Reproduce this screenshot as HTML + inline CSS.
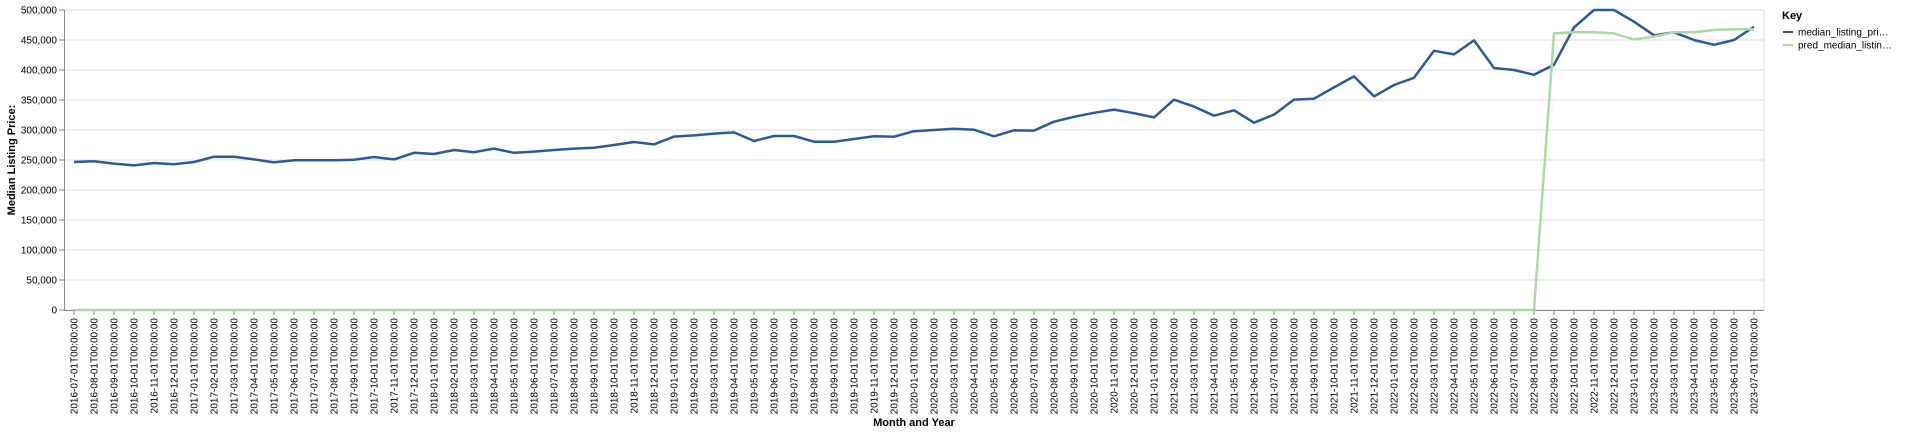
<!DOCTYPE html>
<html><head><meta charset="utf-8"><style>
html,body{margin:0;padding:0;background:#fff;}
svg{display:block;font-family:"Liberation Sans",sans-serif;}
</style></head><body>
<svg id="chart" width="1920" height="434"></svg>
<script>
const months = [];
for (let y = 2016, m = 7; !(y === 2023 && m === 8); m++) { if (m > 12) { m = 1; y++; } if (y===2023&&m===8) break; months.push(y + '-' + String(m).padStart(2,'0') + '-01T00:00:00'); }
const actualValues = [246700,247800,244000,241000,245000,243000,246700,255500,255500,251000,246000,249500,249500,249500,250500,255000,251000,262000,260000,266700,263000,269000,262000,264000,266700,269000,270500,275000,280000,276000,289000,291000,294000,296000,281700,290000,290000,280500,280500,285000,289500,288900,298000,300000,302000,300500,289500,299500,299000,313900,322000,328700,334000,328000,321000,350500,339000,323900,332800,312200,325600,350600,352200,371000,389400,356000,375000,387000,432000,426000,449400,403300,400000,392000,408900,471000,500000,500000,480500,457800,462800,450000,442000,450000,472000];
const predValues = [0,0,0,0,0,0,0,0,0,0,0,0,0,0,0,0,0,0,0,0,0,0,0,0,0,0,0,0,0,0,0,0,0,0,0,0,0,0,0,0,0,0,0,0,0,0,0,0,0,0,0,0,0,0,0,0,0,0,0,0,0,0,0,0,0,0,0,0,0,0,0,0,0,0,461000,462800,463000,461000,451000,455600,462800,463000,466700,467800,468000];
const yTicks = [0,50000,100000,150000,200000,250000,300000,350000,400000,450000,500000];
const seriesNames = ['median_listing_pri…','pred_median_listin…'];

const NS='http://www.w3.org/2000/svg';
const svg=document.getElementById('chart');
const L=64,R=1764,T=10,B=310;
const xs=i=>74+i*(1680/(months.length-1));
const ys=v=>B-(v/500000)*(B-T);
function el(tag,attrs,parent){const e=document.createElementNS(NS,tag);for(const k in attrs)e.setAttribute(k,attrs[k]);(parent||svg).appendChild(e);return e;}

// grid + y ticks
yTicks.forEach(v=>{
  const g=el('line',{x1:L,x2:R,y1:ys(v),y2:ys(v),stroke:'#ddd','stroke-width':1});
  
  
  const t=el('line',{x1:L-5,x2:L,y1:ys(v),y2:ys(v),stroke:'#888'});
  
  
  const tx=el('text',{x:L-7,y:ys(v)+3.5,'text-anchor':'end','font-size':10,fill:'#000'});
  tx.textContent=v.toLocaleString('en-US');
  
  
});
// right border
const rb=el('line',{x1:R,x2:R,y1:T,y2:B,stroke:'#ddd'});


// axes
const ya=el('line',{x1:L+0.5,x2:L+0.5,y1:T,y2:B,stroke:'#888'});


const xa=el('line',{x1:L,x2:R,y1:B+0.5,y2:B+0.5,stroke:'#888'});


months.forEach((m,i)=>{
  const x=xs(i);
  const t=el('line',{x1:x,x2:x,y1:B,y2:B+5,stroke:'#888'});
  
  
  const tx=el('text',{x:0,y:0,'text-anchor':'end','font-size':10,fill:'#000',transform:`translate(${x+3.5},${B+8}) rotate(-90)`});
  tx.textContent=m;
  
  
});
// titles
const xt=el('text',{x:(L+R)/2,y:426,'text-anchor':'middle','font-size':11,'font-weight':'bold'});
xt.textContent='Month and Year';


const yt=el('text',{x:0,y:0,'text-anchor':'middle','font-size':11,'font-weight':'bold',transform:`translate(15,${(T+B)/2}) rotate(-90)`});
yt.textContent='Median Listing Price:';


// lines
function pathFor(arr){return arr.map((v,i)=>(i?'L':'M')+xs(i).toFixed(1)+','+ys(v).toFixed(1)).join('');}
const p1=el('path',{d:pathFor(actualValues),fill:'none',stroke:'#2c5aa0','stroke-width':2.5,'stroke-linejoin':'round'});


const p2=el('path',{d:pathFor(predValues),fill:'none',stroke:'#a8dca0','stroke-width':2.5,'stroke-linejoin':'round'});


// legend
const lg=el('g',{});


const kt=el('text',{x:1782,y:19,'font-size':11,'font-weight':'bold'},lg);
kt.textContent='Key';


['#2c5aa0','#a8dca0'].forEach((c,i)=>{
  const y=32+i*13;
  const ln=el('line',{x1:1783,x2:1793,y1:y,y2:y,stroke:c,'stroke-width':2},lg);
  
  
  const t=el('text',{x:1798,y:y+3.5,'font-size':10},lg);
  t.textContent=seriesNames[i];
  
  
});
</script>
</body></html>
